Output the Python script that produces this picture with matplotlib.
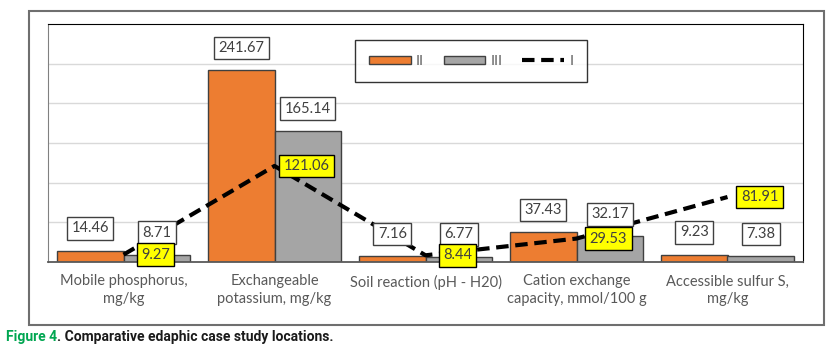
import matplotlib.pyplot as plt
import matplotlib.patches as patches
import numpy as np

categories = ["Mobile phosphorus,\nmg/kg", "Exchangeable\npotassium, mg/kg",
              "Soil reaction (pH - H20)", "Cation exchange\ncapacity, mmol/100 g",
              "Accessible sulfur S,\nmg/kg"]
series_ii = [14.46, 241.67, 7.16, 37.43, 9.23]
series_iii = [8.71, 165.14, 6.77, 32.17, 7.38]
series_i = [9.27, 121.06, 8.44, 29.53, 81.91]

W, H = 835, 356
fig = plt.figure(figsize=(W / 100, H / 100), dpi=100)
fig.patch.set_facecolor("white")

# outer chart frame
frame = patches.Rectangle((29 / W, 1 - 325 / H), 795 / W, 314 / H, transform=fig.transFigure,
                          fill=False, edgecolor="#6f6f6f", linewidth=1.5)
fig.patches.append(frame)

ax = fig.add_axes([48 / W, 1 - 262 / H, 755 / W, 238 / H])
x = np.arange(len(categories))
bw = 0.44

b2 = ax.bar(x - bw / 2, series_ii, bw, color="#ed7d31", edgecolor="#404040", linewidth=1, label="II", zorder=2)
b3 = ax.bar(x + bw / 2, series_iii, bw, color="#a5a5a5", edgecolor="#404040", linewidth=1, label="III", zorder=2)
l1, = ax.plot(x, series_i, color="black", linestyle=(0, (3, 1.6)), linewidth=3, label="I", zorder=3)

ax.set_xlim(-0.5, len(categories) - 0.5)
ax.set_ylim(0, 300)
ax.set_yticks(np.arange(50, 300, 50))
ax.yaxis.grid(True, color="#d9d9d9", linewidth=1)
ax.set_axisbelow(True)
ax.tick_params(axis="y", left=False, labelleft=False)
ax.set_xticks(x)
ax.set_xticklabels(categories, fontsize=10.5, color="#595959", family="Lato", linespacing=1.3)
ax.tick_params(axis="x", length=0, pad=9)
for side in ["top", "right"]:
    ax.spines[side].set_color("black")
ax.spines["left"].set_color("#808080")
ax.spines["bottom"].set_color("#595959")
ax.spines["bottom"].set_linewidth(1.3)

white_box = dict(boxstyle="square,pad=0.3", facecolor="white", edgecolor="#404040", linewidth=1)
yellow_box = dict(boxstyle="square,pad=0.3", facecolor="#ffff00", edgecolor="black", linewidth=1)

for xi, v in zip(x, series_ii):
    ax.annotate(f"{v:.2f}", (xi - bw / 2, v), xytext=(0, 16), textcoords="offset points",
                ha="center", va="center", fontsize=10.5, color="#404040", family="Lato",
                bbox=white_box, zorder=4)
for xi, v in zip(x, series_iii):
    ax.annotate(f"{v:.2f}", (xi + bw / 2, v), xytext=(0, 16), textcoords="offset points",
                ha="center", va="center", fontsize=10.5, color="#404040", family="Lato",
                bbox=white_box, zorder=4)
for xi, v in zip(x, series_i):
    ax.annotate(f"{v:.2f}", (xi, v), xytext=(23, 0), textcoords="offset points",
                ha="center", va="center", fontsize=10.5, color="#404040", family="Lato",
                bbox=yellow_box, zorder=5)

leg = ax.legend([b2, b3, l1], ["II", "III", "I"], loc="upper left",
                bbox_to_anchor=(300 / 755, 1 - 9 / 238), ncol=3, frameon=True,
                fancybox=False, edgecolor="black", fontsize=10, handlelength=3.0, handleheight=0.5,
                columnspacing=1.4, borderpad=1.0, handletextpad=0.4, labelcolor="#595959")
leg.get_frame().set_linewidth(1)

cap = fig.text(6 / W, 1 - 337 / H, "Figure 4", color="#00a651", fontsize=10,
               family="Roboto", fontweight="bold", va="center")
fig.canvas.draw()
ax.annotate(". Comparative edaphic case study locations.", xy=(1, 0.5), xycoords=cap,
            va="center", ha="left", fontsize=10, family="Roboto", fontweight="bold", color="#1a1a1a",
            annotation_clip=False)

fig.savefig("out.png", dpi=100)
